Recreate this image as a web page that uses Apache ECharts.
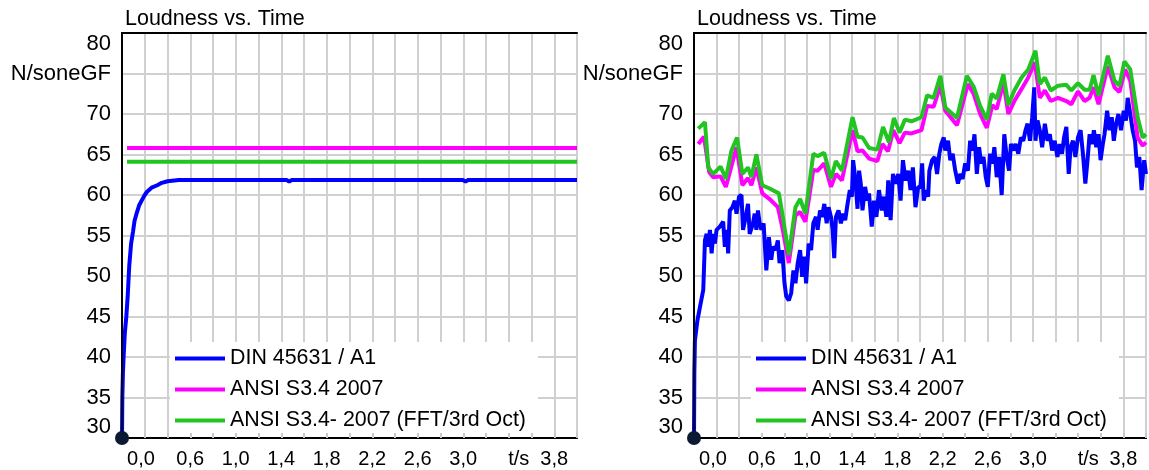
<!DOCTYPE html>
<html><head><meta charset="utf-8">
<script src="https://cdn.jsdelivr.net/npm/echarts@6/dist/echarts.min.js"></script>
<style>html,body{margin:0;padding:0;background:#fff}#c{width:1149px;height:470px}</style>
</head><body><div id="c"></div>
<script>
const chartTitle = 'Loudness vs. Time';
const yUnit = 'N/soneGF';
const seriesNames = ['DIN 45631 / A1', 'ANSI S3.4 2007', 'ANSI S3.4- 2007 (FFT/3rd Oct)'];
const xLabelValues = [0, 0.6, 1.0, 1.4, 1.8, 2.2, 2.6, 3.0, 3.4, 3.8];
const xLabelTexts = ['0,0', '0,6', '1,0', '1,4', '1,8', '2,2', '2,6', '3,0', 't/s', '3,8'];

// Left chart (stationary signal)
const leftDinTime = [0, 0.003, 0.008, 0.014, 0.025, 0.038, 0.05, 0.064, 0.08, 0.097, 0.11, 0.13, 0.15, 0.176, 0.2, 0.22, 0.26, 0.31, 0.35, 0.40, 0.5, 1.45, 1.47, 1.49, 3.0, 3.02, 3.04, 4.0];
const leftDin = [30, 35, 38, 40, 43, 45, 47.5, 51.3, 54, 55.5, 56.8, 57.8, 58.7, 59.4, 60, 60.4, 60.9, 61.2, 61.5, 61.7, 61.85, 61.85, 61.65, 61.85, 61.85, 61.65, 61.85, 61.85];
const leftAnsiTime = [0.044, 4.0];
const leftAnsi = [65.8, 65.8];
const leftFftTime = [0.044, 4.0];
const leftFft = [64.1, 64.1];

// Right chart (time-varying signal)
const rightDinTime = [
  0, 0.003, 0.008, 0.030, 0.053, 0.082, 0.097, 0.112, 0.126, 0.141,
  0.156, 0.170, 0.185, 0.200, 0.229, 0.258, 0.273, 0.293, 0.302, 0.317,
  0.340, 0.361, 0.376, 0.399, 0.420, 0.434, 0.458, 0.478, 0.493, 0.522,
  0.537, 0.552, 0.566, 0.581, 0.596, 0.616, 0.640, 0.663, 0.684, 0.698,
  0.722, 0.742, 0.757, 0.781, 0.801, 0.816, 0.839, 0.860, 0.880, 0.898,
  0.918, 0.939, 0.957, 0.977, 0.992, 1.015, 1.036, 1.056, 1.080, 1.094,
  1.115, 1.133, 1.153, 1.174, 1.191, 1.212, 1.227, 1.241, 1.256, 1.279,
  1.300, 1.320, 1.338, 1.359, 1.379, 1.397, 1.408, 1.426, 1.447, 1.461,
  1.476, 1.491, 1.514, 1.535, 1.549, 1.573, 1.593, 1.614, 1.637, 1.661,
  1.681, 1.702, 1.719, 1.740, 1.761, 1.784, 1.808, 1.828, 1.849, 1.872,
  1.896, 1.916, 1.937, 1.960, 1.984, 2.004, 2.019, 2.033, 2.054, 2.072,
  2.083, 2.107, 2.130, 2.151, 2.171, 2.189, 2.210, 2.224, 2.248, 2.268,
  2.289, 2.312, 2.336, 2.356, 2.377, 2.400, 2.424, 2.444, 2.465, 2.482,
  2.503, 2.523, 2.541, 2.562, 2.582, 2.600, 2.620, 2.641, 2.658, 2.679,
  2.700, 2.723, 2.746, 2.767, 2.788, 2.805, 2.826, 2.846, 2.870, 2.893,
  2.914, 2.934, 2.952, 2.973, 2.993, 3.011, 3.022, 3.040, 3.060, 3.081,
  3.105, 3.128, 3.149, 3.169, 3.192, 3.216, 3.236, 3.257, 3.275, 3.295,
  3.316, 3.333, 3.354, 3.375, 3.398, 3.421, 3.442, 3.463, 3.480, 3.501,
  3.521, 3.539, 3.560, 3.580, 3.598, 3.618, 3.633, 3.656, 3.677, 3.697,
  3.715, 3.736, 3.756, 3.779, 3.803, 3.823, 3.838, 3.861, 3.882, 3.903,
  3.920, 3.941, 3.961, 3.984, 4.0
];
const rightDin = [
  30, 38, 42, 44.5, 46.2, 48.3, 54.4, 55.2, 53.6, 55.7,
  52.8, 55.2, 54.0, 55.7, 56.1, 56.7, 53.6, 55.7, 52.8, 58.1,
  58.5, 59.3, 57.7, 59.8, 60.0, 55.7, 57.3, 58.9, 55.2, 56.5,
  57.7, 55.7, 58.1, 56.5, 55.7, 56.5, 50.7, 54.8, 52.0, 53.6,
  53.2, 54.4, 51.6, 53.2, 49.1, 47.5, 47.0, 47.9, 50.7, 49.1,
  51.6, 53.2, 49.9, 52.4, 49.1, 54.0, 53.2, 56.5, 57.3, 55.7,
  58.1, 57.3, 58.9, 56.5, 58.5, 57.3, 55.7, 52.2, 57.3, 58.1,
  56.5, 57.7, 56.9, 58.9, 60.6, 59.8, 64.3, 62.2, 58.3, 63.0,
  61.4, 58.1, 61.0, 59.3, 60.2, 56.1, 59.3, 57.3, 60.6, 58.1,
  59.8, 57.3, 61.8, 56.9, 62.6, 61.4, 62.6, 59.3, 64.3, 61.8,
  63.0, 60.6, 63.4, 58.5, 61.0, 61.0, 63.9, 59.3, 60.6, 59.8,
  63.0, 64.3, 64.7, 62.6, 65.1, 66.3, 67.1, 65.5, 66.7, 64.3,
  65.1, 63.0, 61.4, 62.6, 62.0, 63.9, 63.0, 66.7, 65.5, 67.5,
  62.6, 65.9, 63.9, 64.7, 62.2, 61.0, 65.1, 63.9, 65.9, 62.2,
  64.7, 60.0, 67.5, 64.7, 63.0, 66.3, 65.5, 66.3, 65.1, 67.1,
  66.7, 68.0, 68.8, 66.7, 69.6, 73.3, 66.7, 69.2, 68.0, 65.9,
  68.8, 66.7, 67.5, 65.5, 66.7, 64.7, 66.3, 65.1, 67.1, 68.4,
  62.6, 65.9, 66.7, 64.7, 67.1, 68.0, 65.1, 61.4, 63.9, 67.5,
  66.3, 68.0, 65.9, 67.5, 64.3, 66.3, 67.5, 70.4, 68.0, 69.6,
  66.7, 68.8, 70.0, 68.0, 70.4, 69.2, 72.0, 70.0, 68.0, 66.7,
  63.4, 64.7, 60.6, 64.3, 62.6
];
const rightAnsiTime = [
  0.038, 0.088, 0.135, 0.170, 0.235, 0.282, 0.376, 0.428, 0.478, 0.508,
  0.552, 0.604, 0.669, 0.742, 0.786, 0.839, 0.898, 0.939, 0.986, 1.056,
  1.094, 1.153, 1.212, 1.256, 1.309, 1.403, 1.447, 1.491, 1.549, 1.623,
  1.667, 1.717, 1.764, 1.819, 1.866, 1.925, 2.013, 2.063, 2.121, 2.180,
  2.224, 2.327, 2.424, 2.474, 2.532, 2.591, 2.641, 2.679, 2.738, 2.782,
  2.835, 2.899, 2.958, 3.016, 3.060, 3.105, 3.157, 3.222, 3.295, 3.339,
  3.398, 3.457, 3.501, 3.536, 3.580, 3.662, 3.721, 3.765, 3.815, 3.861,
  3.926, 3.970, 4.0
];
const rightAnsi = [
  66.3, 67.2, 62.8, 62.2, 62.3, 61.0, 65.9, 61.2, 62.1, 61.2,
  63.4, 60.2, 59.5, 58.5, 55.7, 51.6, 57.5, 57.9, 56.7, 63.1,
  63.0, 63.9, 61.0, 62.6, 61.8, 68.0, 65.4, 65.5, 64.5, 64.2,
  66.3, 65.4, 68.0, 66.4, 67.7, 67.6, 68.0, 71.0, 70.9, 73.5,
  70.4, 68.6, 73.7, 72.5, 70.0, 68.3, 71.1, 70.6, 73.9, 70.0,
  71.6, 73.1, 74.5, 76.4, 72.0, 72.9, 71.6, 72.0, 71.6, 71.2,
  72.8, 71.6, 72.0, 73.3, 71.2, 75.9, 73.3, 72.7, 75.5, 74.1,
  67.1, 66.1, 66.5
];
const rightFftTime = [
  0.038, 0.097, 0.126, 0.170, 0.235, 0.282, 0.332, 0.381, 0.428, 0.478,
  0.508, 0.552, 0.604, 0.669, 0.751, 0.786, 0.839, 0.898, 0.939, 0.986,
  1.056, 1.094, 1.153, 1.212, 1.256, 1.309, 1.403, 1.447, 1.491, 1.549,
  1.623, 1.673, 1.725, 1.769, 1.819, 1.866, 1.925, 2.013, 2.063, 2.121,
  2.180, 2.224, 2.327, 2.415, 2.474, 2.532, 2.591, 2.635, 2.679, 2.738,
  2.782, 2.835, 2.899, 2.958, 3.022, 3.060, 3.105, 3.157, 3.222, 3.295,
  3.339, 3.398, 3.457, 3.501, 3.536, 3.580, 3.662, 3.721, 3.765, 3.809,
  3.861, 3.926, 3.970, 4.0
];
const rightFft = [
  68.2, 69.0, 63.4, 62.6, 63.5, 62.0, 65.5, 67.1, 62.6, 63.4,
  62.2, 65.0, 61.2, 60.8, 60.2, 57.3, 52.6, 58.5, 59.5, 57.7,
  65.1, 64.8, 65.2, 62.0, 64.2, 63.0, 69.6, 67.2, 67.1, 65.8,
  65.6, 68.4, 66.5, 69.5, 67.7, 69.3, 69.1, 69.6, 72.3, 72.0,
  74.7, 70.8, 69.5, 74.7, 73.4, 71.0, 69.3, 72.5, 71.9, 74.9,
  71.1, 72.9, 74.5, 75.5, 77.8, 73.7, 74.5, 72.9, 73.5, 73.6,
  72.9, 73.8, 73.0, 73.0, 74.8, 72.3, 77.2, 74.1, 73.5, 76.5,
  75.5, 69.6, 67.1, 67.5
];

const FONT = 'Liberation Sans, Arial, sans-serif';
const colors = ['#0000ff', '#ff00ff', '#22c422'];
const GRID_LEFTS = [122, 694];

function zip(t, v) { return t.map((x, i) => [x, v[i]]); }

function xFormatter(v) {
  const i = xLabelValues.findIndex(x => Math.abs(x - v) < 1e-6);
  if (i < 0) return '';
  const t = xLabelTexts[i];
  if (i === 0) return '{first|' + t + '}';
  if (t === 't/s') return '{unit|' + t + '}';
  return t;
}

const grids = [], xAxes = [], yAxes = [], legends = [], titles = [], series = [];
const datasets = [
  [zip(leftDinTime, leftDin), zip(leftAnsiTime, leftAnsi), zip(leftFftTime, leftFft)],
  [zip(rightDinTime, rightDin), zip(rightAnsiTime, rightAnsi), zip(rightFftTime, rightFft)]
];
const frameLine = { show: true, lineStyle: { color: '#000', width: 2 } };

GRID_LEFTS.forEach((gl, g) => {
  grids.push({ left: gl, top: 33, width: 455, height: 405, show: true, borderWidth: 0, backgroundColor: '#fff' });
  titles.push({ text: chartTitle, left: gl + 3, top: 8, padding: 0, textStyle: { fontFamily: FONT, fontSize: 21.5, fontWeight: 'normal', color: '#000' } });
  // main x axis: labels + vertical grid lines
  xAxes.push({
    type: 'value', gridIndex: g, min: 0, max: 4, interval: 0.2, position: 'bottom',
    axisLine: frameLine,
    axisTick: { show: false },
    splitLine: { show: true, lineStyle: { color: '#d0d0d0', width: 2 } },
    axisLabel: {
      show: true, interval: 0, margin: 11, formatter: xFormatter,
      fontFamily: FONT, fontSize: 20, color: '#000',
      showMinLabel: true, showMaxLabel: true,
      rich: {
        first: { padding: [0, 0, 0, 38], fontFamily: FONT, fontSize: 20, color: '#000' },
        unit: { padding: [0, 0, 0, 20], fontFamily: FONT, fontSize: 20, color: '#000' }
      }
    }
  });
  // overlay bottom axis: small inside ticks and frame line above the legend
  xAxes.push({
    type: 'value', gridIndex: g, min: 0, max: 4, interval: 0.2, position: 'bottom', z: 10,
    axisLine: frameLine,
    axisTick: { show: true, inside: true, length: 5, lineStyle: { color: '#c8c8c8', width: 2 } },
    splitLine: { show: false },
    axisLabel: { show: false }
  });
  // top frame line
  xAxes.push({
    type: 'value', gridIndex: g, min: 0, max: 4, position: 'top', z: 10,
    axisLine: frameLine, axisTick: { show: false }, splitLine: { show: false }, axisLabel: { show: false }
  });
  // main y axis: labels + horizontal grid lines (below the legend)
  yAxes.push({
    type: 'value', gridIndex: g, min: 30, max: 80, interval: 5, position: 'left',
    axisLine: frameLine,
    axisTick: { show: false },
    splitLine: { show: true, lineStyle: { color: '#d0d0d0', width: 2 } },
    axisLabel: {
      margin: 11, fontFamily: FONT, fontSize: 22, color: '#000',
      verticalAlignMinLabel: 'bottom', verticalAlignMaxLabel: 'top',
      formatter: v => (v === 75 ? yUnit : String(v))
    }
  });
  // right frame line
  yAxes.push({
    type: 'value', gridIndex: g, min: 30, max: 80, position: 'right', z: 10,
    axisLine: frameLine, axisTick: { show: false }, splitLine: { show: false }, axisLabel: { show: false }
  });
  legends.push({
    data: seriesNames, orient: 'vertical', left: g === 0 ? 170 : 751, top: 342,
    backgroundColor: '#fff', padding: [6, 12, 5, 5], itemGap: 10, itemWidth: 50, itemHeight: 4,
    itemTextGap: 12, icon: 'rect', selectedMode: false, z: 4,
    textStyle: { fontFamily: FONT, fontSize: 21.4, color: '#000' }
  });
  datasets[g].forEach((d, k) => {
    series.push({
      type: 'line', name: seriesNames[k], xAxisIndex: g * 3, yAxisIndex: g * 2, data: d,
      showSymbol: false, symbol: 'none', clip: false, z: 2 + k,
      lineStyle: { color: colors[k], width: 4 }, itemStyle: { color: colors[k] },
      emphasis: { disabled: true }
    });
  });
  series.push({
    type: 'scatter', xAxisIndex: g * 3, yAxisIndex: g * 2, clip: false, z: 20,
    data: [datasets[g][0][0]], symbolSize: 14,
    itemStyle: { color: '#0b1a33', opacity: 1 }, emphasis: { disabled: true }
  });
});

const chart = echarts.init(document.getElementById('c'), null, { renderer: 'canvas' });
chart.setOption({
  animation: false, backgroundColor: '#fff',
  title: titles, grid: grids, xAxis: xAxes, yAxis: yAxes, legend: legends, series: series
});
</script></body></html>
